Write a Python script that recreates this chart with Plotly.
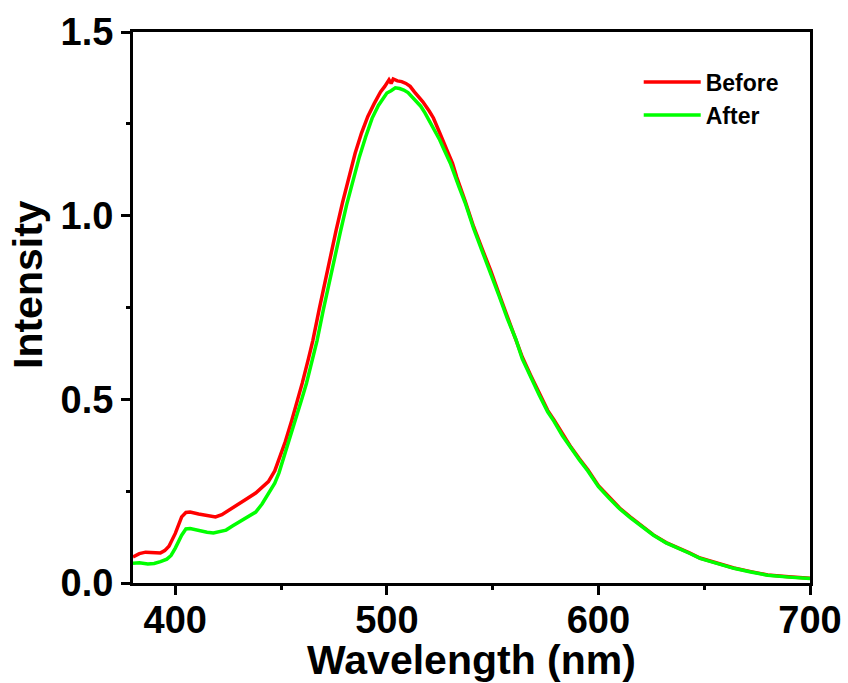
import plotly.graph_objects as go

wl_before = [380, 383, 386, 390, 393, 395, 397, 400, 403, 405, 407, 411, 415, 419, 422, 424, 427, 430,
             434, 438, 441, 444, 447, 449, 452, 455, 458, 460, 463, 465, 468, 470, 473, 476, 479, 482,
             485, 488, 491, 494, 497, 499, 501, 502, 503, 505, 507, 509, 511, 513, 515, 517, 520,
             522, 525, 527, 529, 531, 533, 537, 541, 545, 549, 553, 557, 561, 564, 568, 572, 576, 579,
             583, 587, 591, 595, 600, 605, 610, 615, 620, 626, 632, 637, 643, 648, 656, 664, 672, 680,
             690, 700]
int_before = [0.071, 0.080, 0.084, 0.082, 0.082, 0.088, 0.100, 0.135, 0.180, 0.192, 0.193, 0.188, 0.183,
              0.180, 0.186, 0.193, 0.205, 0.216, 0.230, 0.245, 0.260, 0.276, 0.305, 0.335, 0.385, 0.442,
              0.500, 0.544, 0.612, 0.660, 0.745, 0.800, 0.880, 0.960, 1.035, 1.105, 1.170, 1.225, 1.270,
              1.305, 1.337, 1.352, 1.370, 1.360, 1.372, 1.367, 1.365, 1.360, 1.352, 1.337, 1.325,
              1.310, 1.285, 1.266, 1.225, 1.200, 1.170, 1.143, 1.105, 1.040, 0.970, 0.910, 0.852, 0.787,
              0.724, 0.668, 0.615, 0.565, 0.517, 0.470, 0.444, 0.405, 0.370, 0.338, 0.308, 0.265, 0.234,
              0.204, 0.180, 0.157, 0.131, 0.110, 0.098, 0.082, 0.068, 0.054, 0.041, 0.031, 0.022, 0.017,
              0.013]

wl_after = [380, 383, 387, 390, 393, 396, 398, 400, 403, 405, 407, 411, 415, 418, 421, 424, 427, 430,
            434, 438, 441, 444, 447, 449, 452, 455, 457, 460, 462, 465, 467, 470, 472, 475, 478, 481,
            484, 487, 490, 493, 496, 498, 500, 502, 504, 506, 508, 510, 512, 514, 516, 518, 520,
            522, 525, 527, 530, 534, 537, 541, 545, 549, 553, 557, 561, 564, 568, 572, 576, 579, 583,
            587, 591, 595, 600, 605, 610, 615, 620, 626, 632, 637, 643, 648, 656, 664, 672, 680, 690,
            700]
int_after = [0.054, 0.055, 0.052, 0.053, 0.058, 0.065, 0.075, 0.095, 0.130, 0.147, 0.148, 0.142, 0.138,
             0.136, 0.139, 0.144, 0.155, 0.166, 0.178, 0.193, 0.215, 0.243, 0.272, 0.300, 0.355, 0.408,
             0.444, 0.505, 0.544, 0.612, 0.660, 0.745, 0.800, 0.880, 0.955, 1.030, 1.095, 1.160, 1.215,
             1.265, 1.300, 1.318, 1.334, 1.340, 1.348, 1.346, 1.342, 1.335, 1.323, 1.312, 1.298,
             1.280, 1.260, 1.240, 1.206, 1.180, 1.143, 1.080, 1.035, 0.965, 0.905, 0.847, 0.782, 0.719,
             0.663, 0.610, 0.560, 0.512, 0.466, 0.440, 0.401, 0.366, 0.335, 0.305, 0.262, 0.231, 0.202,
             0.178, 0.155, 0.130, 0.109, 0.097, 0.081, 0.067, 0.053, 0.040, 0.030, 0.021, 0.016, 0.012]

x_ticks = [400, 500, 600, 700]
y_ticks = [0.0, 0.5, 1.0, 1.5]
y_tick_labels = ["0.0", "0.5", "1.0", "1.5"]

FONT = "Liberation Sans, Arial, sans-serif"

fig = go.Figure()
fig.add_trace(go.Scatter(x=wl_before, y=int_before, mode="lines", name="Before",
                         line=dict(color="#FF0000", width=3.5)))
fig.add_trace(go.Scatter(x=wl_after, y=int_after, mode="lines", name="After",
                         line=dict(color="#00FF00", width=3.5)))

axis_common = dict(showgrid=False, zeroline=False, showline=True, linecolor="black", linewidth=3,
                   mirror=True, ticks="outside", ticklen=9, tickwidth=3, tickcolor="black",
                   automargin=False,
                   tickfont=dict(family=FONT, size=38, color="black", weight="bold"))

fig.update_xaxes(range=[380, 700], tickvals=x_ticks, ticklabelstandoff=-8,
                 minor=dict(ticks="outside", ticklen=4, tickwidth=3, dtick=50, tick0=350, tickcolor="black"),
                 title=dict(text="Wavelength (nm)", font=dict(family=FONT, size=41, color="black", weight="bold"),
                            standoff=2),
                 **axis_common)
fig.update_yaxes(range=[0, 1.5], tickvals=y_ticks, ticktext=y_tick_labels,
                 minor=dict(ticks="outside", ticklen=4, tickwidth=3, dtick=0.25, tick0=0, tickcolor="black"),
                 **axis_common)

fig.add_annotation(text="Intensity", xref="paper", yref="paper", x=-0.155, y=0.541,
                   xanchor="center", yanchor="middle", textangle=-90, showarrow=False,
                   font=dict(family=FONT, size=41, color="black", weight="bold"))

fig.update_layout(width=848, height=683, plot_bgcolor="white", paper_bgcolor="white",
                  margin=dict(l=133, r=38, t=32, b=100),
                  legend=dict(x=0.747, y=0.948, xanchor="left", yanchor="top", bgcolor="rgba(0,0,0,0)",
                              font=dict(family=FONT, size=23, color="black", weight="bold"),
                              itemwidth=57))

fig.write_html("out.html")
